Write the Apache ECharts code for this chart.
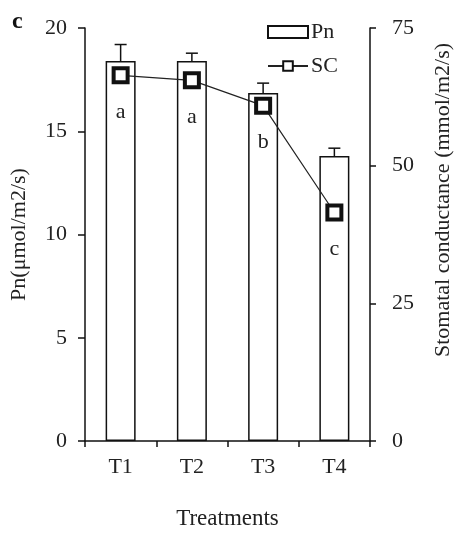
<!DOCTYPE html>
<html>
<head>
<meta charset="utf-8">
<script src="https://cdn.jsdelivr.net/npm/echarts@6/dist/echarts.min.js"></script>
<style>
  html, body { margin: 0; padding: 0; background: #fff; }
  #chart { width: 458px; height: 535px; }
</style>
</head>
<body>
<div id="chart"></div>
<script>
const categories = ['T1', 'T2', 'T3', 'T4'];
const pnValues = [18.4, 18.4, 16.85, 13.8];
const pnErrors = [0.8, 0.38, 0.48, 0.38];
const scValues = [66.4, 65.5, 60.9, 41.5];
const scLetters = ['a', 'a', 'b', 'c'];
const panelLabel = 'c';
const rightAxisTitle = 'Stomatal conductance (mmol/m2/s)';

const FONT = "'Liberation Serif', 'Times New Roman', serif";
const chart = echarts.init(document.getElementById('chart'), null, { renderer: 'canvas' });

const errData = pnValues.map((v, i) => [i, v, pnErrors[i]]);

chart.setOption({
  backgroundColor: '#ffffff',
  animation: false,
  textStyle: { fontFamily: FONT, color: '#222' },
  graphic: [{
    type: 'text', left: 12, top: 10,
    style: { text: panelLabel, font: 'bold 24px ' + FONT, fill: '#111' }
  }, {
    type: 'text', x: 443, y: 200, rotation: Math.PI / 2,
    style: { text: rightAxisTitle, font: '22px ' + FONT, fill: '#222', align: 'center', verticalAlign: 'middle' }
  }],
  legend: {
    orient: 'vertical',
    left: 262, top: 16,
    itemWidth: 40, itemHeight: 12, itemGap: 12,
    textStyle: { fontFamily: FONT, fontSize: 22, color: '#222', padding: [0, 0, 0, -2] },
    data: [{ name: 'Pn', icon: 'rect' }, { name: 'SC' }]
  },
  grid: { left: 84, right: 88, top: 28, bottom: 88, containLabel: false },
  xAxis: {
    type: 'category',
    data: categories,
    boundaryGap: true,
    name: 'Treatments',
    nameLocation: 'middle',
    nameGap: 66,
    nameTextStyle: { fontFamily: FONT, fontSize: 23, color: '#222' },
    axisLine: { lineStyle: { color: '#111', width: 1.5 } },
    axisTick: { show: true, length: 6, inside: false, lineStyle: { color: '#111', width: 1.5 } },
    axisLabel: { fontFamily: FONT, fontSize: 22, color: '#222', margin: 15 }
  },
  yAxis: [{
    type: 'value', min: 0, max: 20, interval: 5,
    name: 'Pn(\u03bcmol/m2/s)',
    nameLocation: 'middle', nameGap: 55, nameRotate: 90,
    nameTextStyle: { fontFamily: FONT, fontSize: 22, color: '#222' },
    axisLine: { show: true, lineStyle: { color: '#111', width: 1.5 } },
    axisTick: { show: true, length: 7, lineStyle: { color: '#111', width: 1.5 } },
    axisLabel: { fontFamily: FONT, fontSize: 22, color: '#222', margin: 18 },
    splitLine: { show: false }
  }, {
    type: 'value', min: 0, max: 75, interval: 25, position: 'right',
    axisLine: { show: true, lineStyle: { color: '#111', width: 1.5 } },
    axisTick: { show: true, length: 6, lineStyle: { color: '#111', width: 1.5 } },
    axisLabel: { fontFamily: FONT, fontSize: 22, color: '#222', margin: 22 },
    splitLine: { show: false }
  }],
  series: [{
    name: 'Pn',
    type: 'bar',
    yAxisIndex: 0,
    data: pnValues,
    barWidth: 30,
    itemStyle: { color: '#ffffff', borderColor: '#111', borderWidth: 1.5 },
    z: 2
  }, {
    name: 'Pn error',
    type: 'custom',
    yAxisIndex: 0,
    data: errData,
    z: 3,
    renderItem: function (params, api) {
      const x = api.value(0);
      const top = api.coord([x, api.value(1) + api.value(2)]);
      const base = api.coord([x, api.value(1)]);
      const half = 6;
      return {
        type: 'group',
        children: [{
          type: 'line',
          shape: { x1: top[0], y1: top[1], x2: base[0], y2: base[1] },
          style: { stroke: '#111', lineWidth: 1.5 }
        }, {
          type: 'line',
          shape: { x1: top[0] - half, y1: top[1], x2: top[0] + half, y2: top[1] },
          style: { stroke: '#111', lineWidth: 1.5 }
        }]
      };
    }
  }, {
    name: 'SC',
    type: 'line',
    yAxisIndex: 1,
    data: scValues,
    symbol: 'rect',
    symbolSize: 14,
    lineStyle: { color: '#222', width: 1.2 },
    itemStyle: { color: '#ffffff', borderColor: '#111', borderWidth: 4 },
    label: {
      show: true,
      position: 'bottom',
      distance: 17,
      fontFamily: FONT, fontSize: 22, color: '#222',
      formatter: function (p) { return scLetters[p.dataIndex]; }
    },
    z: 5
  }]
});
</script>
</body>
</html>
